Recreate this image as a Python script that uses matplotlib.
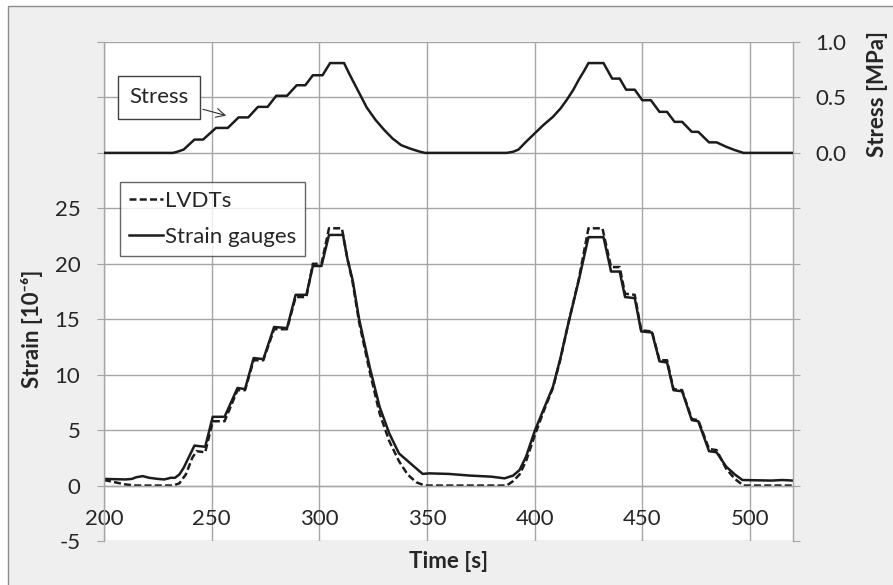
import matplotlib
matplotlib.use("Agg")
import matplotlib.pyplot as plt
from matplotlib.patches import Rectangle

plt.rcParams['font.family'] = ['Lato', 'DejaVu Sans']

# stress curve [MPa]
t_stress = [200, 232, 234, 237, 242, 246, 252, 257.5, 262.5, 267, 271.5, 276, 280, 285,
            289.5, 293.5, 297, 301.5, 305, 311.5, 314, 318, 322, 326, 330, 334, 338, 342,
            346, 349, 387, 390, 392.5, 396, 400, 404, 408.5, 412, 415, 418, 420.5, 423,
            425, 432, 436, 439.5, 442.5, 446.5, 450, 454, 458, 461.5, 465, 468.5, 473, 476,
            481, 484.5, 489, 493, 497, 520]
stress = [0, 0, 0.01, 0.03, 0.12, 0.12, 0.225, 0.225, 0.32, 0.32, 0.415, 0.415, 0.515, 0.515,
          0.61, 0.61, 0.70, 0.70, 0.81, 0.81, 0.71, 0.56, 0.41, 0.30, 0.21, 0.13, 0.07, 0.04,
          0.015, 0, 0, 0.01, 0.03, 0.10, 0.175, 0.25, 0.325, 0.40, 0.48, 0.57, 0.66, 0.74,
          0.81, 0.81, 0.67, 0.67, 0.57, 0.57, 0.475, 0.475, 0.37, 0.37, 0.28, 0.28, 0.19, 0.19,
          0.095, 0.095, 0.055, 0.025, 0, 0]

# strain gauges [1e-6]
t_sg = [200, 210, 213, 215, 218, 221, 225, 228, 231, 233, 235, 237, 240, 242, 247, 250.5,
        256, 262, 265.5, 269.5, 274, 279, 285, 289, 294, 297, 301, 304.5, 311, 313, 315.5,
        318.5, 323.5, 328, 332.5, 337, 343.5, 348, 351, 360, 370, 380, 386, 390, 393, 396,
        400, 404, 408.5, 412, 415.5, 420.5, 425, 432, 435.5, 439.5, 442, 446.5, 449.5, 454.5,
        458, 461.5, 464.5, 468.5, 473, 476, 481, 484.5, 489, 493, 496.5, 510, 515, 520]
strain_sg = [0.6, 0.55, 0.6, 0.75, 0.85, 0.7, 0.6, 0.55, 0.7, 0.7, 1.0, 1.6, 2.8, 3.6, 3.5, 6.2,
             6.2, 8.8, 8.7, 11.5, 11.4, 14.3, 14.2, 17.2, 17.2, 19.8, 19.8, 22.6, 22.6, 20.5, 18.5,
             15.0, 10.6, 7.1, 4.7, 2.9, 1.8, 1.05, 1.1, 1.05, 0.9, 0.8, 0.65, 0.9, 1.4, 2.6,
             4.9, 6.8, 8.9, 11.5, 14.5, 18.5, 22.4, 22.4, 19.3, 19.3, 17.0, 16.9, 13.9, 13.8,
             11.2, 11.1, 8.6, 8.5, 5.9, 5.8, 3.1, 3.0, 1.7, 1.0, 0.5, 0.45, 0.5, 0.45]

# LVDTs [1e-6]
t_lv = [200, 205, 210, 215, 232, 235, 238, 241, 243, 247, 250.5, 256, 262, 265.5, 269.5, 274,
        279, 285, 289, 294, 297, 301, 304.5, 310.5, 313, 315.5, 318.5, 323.5, 328, 332.5, 337,
        341, 345, 349, 387, 390, 393, 396, 400, 404, 408.5, 412, 415.5, 420.5, 425, 431.5,
        435.5, 439.5, 442, 446.5, 449.5, 454.5, 458, 461.5, 464.5, 468.5, 473, 476, 481,
        484.5, 489, 493, 497, 520]
strain_lv = [0.5, 0.3, 0.1, 0.0, 0.0, 0.2, 1.0, 2.5, 3.1, 3.0, 5.8, 5.8, 8.6, 8.6, 11.3, 11.3,
             14.1, 14.1, 17.0, 17.0, 20.0, 20.0, 23.2, 23.2, 20.5, 18.3, 14.7, 10.2, 6.5, 4.0, 2.2,
             1.0, 0.3, 0.0, 0.0, 0.4, 1.0, 2.2, 4.5, 6.6, 8.8, 11.4, 14.5, 18.6, 23.2, 23.2,
             19.7, 19.7, 17.3, 17.2, 14.0, 13.9, 11.3, 11.3, 8.7, 8.6, 6.0, 5.9, 3.3,
             3.2, 1.5, 0.6, 0.0, 0.0]

strain_ticks = [-5, 0, 5, 10, 15, 20, 25, 30, 35, 40]
stress_ticks = [-3.5, -3.0, -2.5, -2.0, -1.5, -1.0, -0.5, 0.0, 0.5, 1.0]

grid_c = '#a6a6a6'
line_c = '#1c1c1c'
text_c = '#262626'
fs = 16

fig = plt.figure(figsize=(8.93, 5.85), dpi=100)
fig.patches.append(Rectangle((8 / 893, -0.01), 1.0, 1.01 - 6 / 585, transform=fig.transFigure,
                             facecolor='#efefef', edgecolor='#8c8c8c', linewidth=1.0, zorder=-5))
ax = fig.add_axes([104 / 893, 1 - 541 / 585, 689 / 893, 499 / 585])
ax.set_facecolor('white')

ax.plot(t_lv, strain_lv, color=line_c, lw=1.8, ls=(0, (2.8, 1.3)), label='LVDTs')
ax.plot(t_sg, strain_sg, color=line_c, lw=1.8, label='Strain gauges')

ax.set_xlim(200, 520)
ax.set_ylim(-5, 40)
ax.set_xticks([200, 250, 300, 350, 400, 450, 500])
ax.set_yticks(strain_ticks)
ax.set_yticklabels([str(v) if v <= 25 else '' for v in strain_ticks])
ax.grid(True, color=grid_c, lw=1.0)
ax.set_axisbelow(True)

ax.spines['bottom'].set_position(('data', 0))
ax.spines['top'].set_visible(False)
for s in ['bottom', 'left', 'right']:
    ax.spines[s].set_color(grid_c)
    ax.spines[s].set_linewidth(1.0)
ax.tick_params(axis='x', length=0, pad=17, labelsize=fs, labelcolor=text_c)
ax.tick_params(axis='y', length=5, color=grid_c, pad=12, labelsize=fs, labelcolor=text_c)

ax.set_xlabel('Time [s]', fontsize=fs, fontweight='bold', color=text_c)
ax.xaxis.set_label_coords(0.5, -0.02)
ax.set_ylabel('Strain [10⁻⁶]', fontsize=fs, fontweight='bold', color=text_c)
ax.yaxis.set_label_coords(-0.088, 0.425)

leg = ax.legend(loc='upper left', bbox_to_anchor=(0.023, 0.72), fontsize=fs, frameon=True,
                fancybox=False, handlelength=1.5, handletextpad=0.1, borderpad=0.42,
                labelspacing=0.7, borderaxespad=0)
leg.get_frame().set_edgecolor('#404040')
leg.get_frame().set_linewidth(1.0)
for txt in leg.get_texts():
    txt.set_color(text_c)

ax2 = ax.twinx()
ax2.plot(t_stress, stress, color=line_c, lw=1.8)
ax2.set_ylim(-3.5, 1.0)
ax2.set_yticks(stress_ticks)
ax2.set_yticklabels(['%.1f' % v if v >= 0 else '' for v in stress_ticks])
ax2.tick_params(axis='y', length=5, color=grid_c, pad=11, labelsize=fs, labelcolor=text_c)
for s in ax2.spines.values():
    s.set_visible(False)
ax2.set_ylabel('Stress [MPa]', fontsize=fs, fontweight='bold', color=text_c)
ax2.yaxis.set_label_coords(1.107, 0.896)

ax2.annotate('Stress', xy=(258, 0.33), xytext=(225.5, 0.5), fontsize=fs, color=text_c,
             ha='center', va='center',
             bbox=dict(boxstyle='square,pad=0.5', fc='white', ec='#404040', lw=1.0),
             arrowprops=dict(arrowstyle='->', color='#303030', lw=0.8))

fig.savefig('out.png', dpi=100, facecolor='white')
